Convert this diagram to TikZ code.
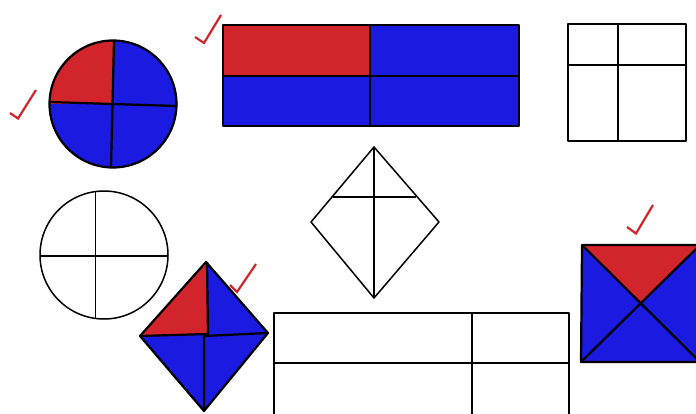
\documentclass[tikz,border=0pt]{standalone}
\definecolor{cred}{RGB}{209,37,43}
\definecolor{cblue}{RGB}{26,26,224}
\tikzset{
  thin line/.style={line width=1.5pt, line join=round},
  thick line/.style={line width=2.2pt, line join=round},
  tick/.style={draw=cred, line width=2.2pt, line join=miter}
}
\begin{document}
\begin{tikzpicture}[x=1pt,y=-1pt]
\useasboundingbox (0,0) rectangle (696,414);
\clip (0,0) rectangle (696,414);
% top-left circle
\fill[cblue] (113,104) circle[radius=63.5];
\fill[cred] (113,104) -- (113,40.5) arc[start angle=270, end angle=180, radius=63.5] -- cycle;
\draw[thick line] (113,104) circle[radius=63.5];
\draw[thick line] (114,40.5) -- (111,167.5);
\draw[thick line] (49.5,102) -- (176.5,106);
\draw[tick] (10,113) -- (18,118.5) -- (36,90);
% top rectangle
\fill[cblue] (223,25) rectangle (519,126);
\fill[cred] (223,25) rectangle (370,76);
\draw[thick line] (223,25) rectangle (519,126);
\draw[thick line] (370,25) -- (370,127);
\draw[thick line] (223,76) -- (519,76);
\draw[tick] (195,37) -- (204,43) -- (221,15);
% top-right square
\draw[thin line] (568,24) rectangle (686,141);
\draw[thin line] (618,24) -- (618,141);
\draw[thin line] (568,65) -- (686,65);
% kite
\draw[thin line] (374,147) -- (439,222) -- (374,298) -- (311,222) -- cycle;
\draw[thin line] (374,147) -- (374,298);
\draw[thin line] (333,197) -- (416,197);
% bottom-left circle
\draw[thin line] (104,255) circle[radius=64];
\draw[thin line] (95.5,191) -- (95.5,319);
\draw[thin line] (40,256) -- (168,256);
% diamond
\fill[cblue] (206,262) -- (268,333) -- (204,411) -- (140,336) -- cycle;
\fill[cred] (206,262) -- (208,334) -- (140,336) -- cycle;
\draw[thick line] (206,262) -- (268,333) -- (204,411) -- (140,336) -- cycle;
\draw[thick line] (207,262) -- (208,334) -- (140,336);
\draw[thick line] (268,333) -- (204,336) -- (204,411);
\draw[tick] (230,285) -- (237,292) -- (256,264);
% bottom-right square
\fill[cblue] (582,245) -- (700,245) -- (700,362) -- (581,362) -- cycle;
\fill[cred] (582,245) -- (700,245) -- (641,303) -- cycle;
\draw[thick line] (582,245) -- (700,245) -- (700,362) -- (581,362) -- cycle;
\draw[thick line] (582,245) -- (700,362);
\draw[thick line] (581,362) -- (700,245);
\draw[tick] (627,227) -- (636,233.5) -- (653,205);
% bottom rectangle
\draw[thin line] (274,416) -- (274,313) -- (569,313) -- (569,416);
\draw[thin line] (472,313) -- (472,416);
\draw[thin line] (274,363) -- (569,363);
\end{tikzpicture}
\end{document}
